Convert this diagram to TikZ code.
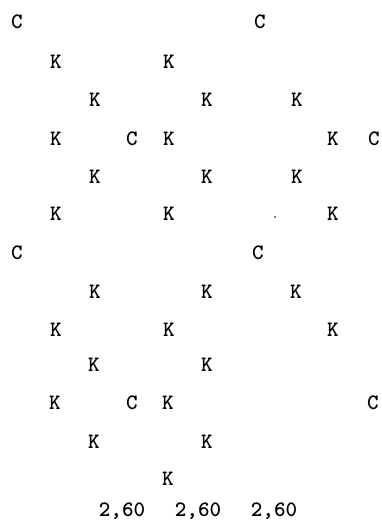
\documentclass[tikz,border=0pt]{standalone}
\usepackage{fontspec}
\begin{document}
\begin{tikzpicture}[x=1pt,y=-1pt,
  lbl/.style={inner sep=0pt,text depth=0pt,font=\ttfamily\bfseries\fontsize{22}{22}\selectfont}]
\useasboundingbox[fill=white] (0,0) rectangle (382,527);
% row 1
\node[lbl] (c1a) at (17,22) {C};
\node[lbl] (c1b) at (260,22) {C};
% row 2
\node[lbl] (k2a) at (56,62) {K};
\node[lbl] (k2b) at (169,62) {K};
% row 3
\node[lbl] (k3a) at (95,100) {K};
\node[lbl] (k3b) at (207,100) {K};
\node[lbl] (k3c) at (297,100) {K};
% row 4
\node[lbl] (k4a) at (56,139) {K};
\node[lbl] (c4a) at (132,139) {C};
\node[lbl] (k4b) at (169,139) {K};
\node[lbl] (k4c) at (333,139) {K};
\node[lbl] (c4b) at (374,139) {C};
% row 5
\node[lbl] (k5a) at (95,177) {K};
\node[lbl] (k5b) at (207,177) {K};
\node[lbl] (k5c) at (297,177) {K};
% row 6
\node[lbl] (k6a) at (56,214) {K};
\node[lbl] (k6b) at (169,214) {K};
\fill (275,217) circle (0.8);
\node[lbl] (k6c) at (333,214) {K};
% row 7
\node[lbl] (c7a) at (17,253) {C};
\node[lbl] (c7b) at (258,253) {C};
% row 8
\node[lbl] (k8a) at (95,292) {K};
\node[lbl] (k8b) at (207,292) {K};
\node[lbl] (k8c) at (296,292) {K};
% row 9
\node[lbl] (k9a) at (56,330) {K};
\node[lbl] (k9b) at (169,330) {K};
\node[lbl] (k9c) at (333,330) {K};
% row 10
\node[lbl] (k10a) at (94,365) {K};
\node[lbl] (k10b) at (207,365) {K};
% row 11
\node[lbl] (k11a) at (55,403) {K};
\node[lbl] (c11a) at (132,403) {C};
\node[lbl] (k11b) at (168,403) {K};
\node[lbl] (c11b) at (373,403) {C};
% row 12
\node[lbl] (k12a) at (94,442) {K};
\node[lbl] (k12b) at (207,442) {K};
% row 13
\node[lbl] (k13a) at (168,479) {K};
% row 14
\node[lbl] (v1) at (122,510) {2,60};
\node[lbl] (v2) at (198,510) {2,60};
\node[lbl] (v3) at (274,510) {2,60};
\end{tikzpicture}
\end{document}
